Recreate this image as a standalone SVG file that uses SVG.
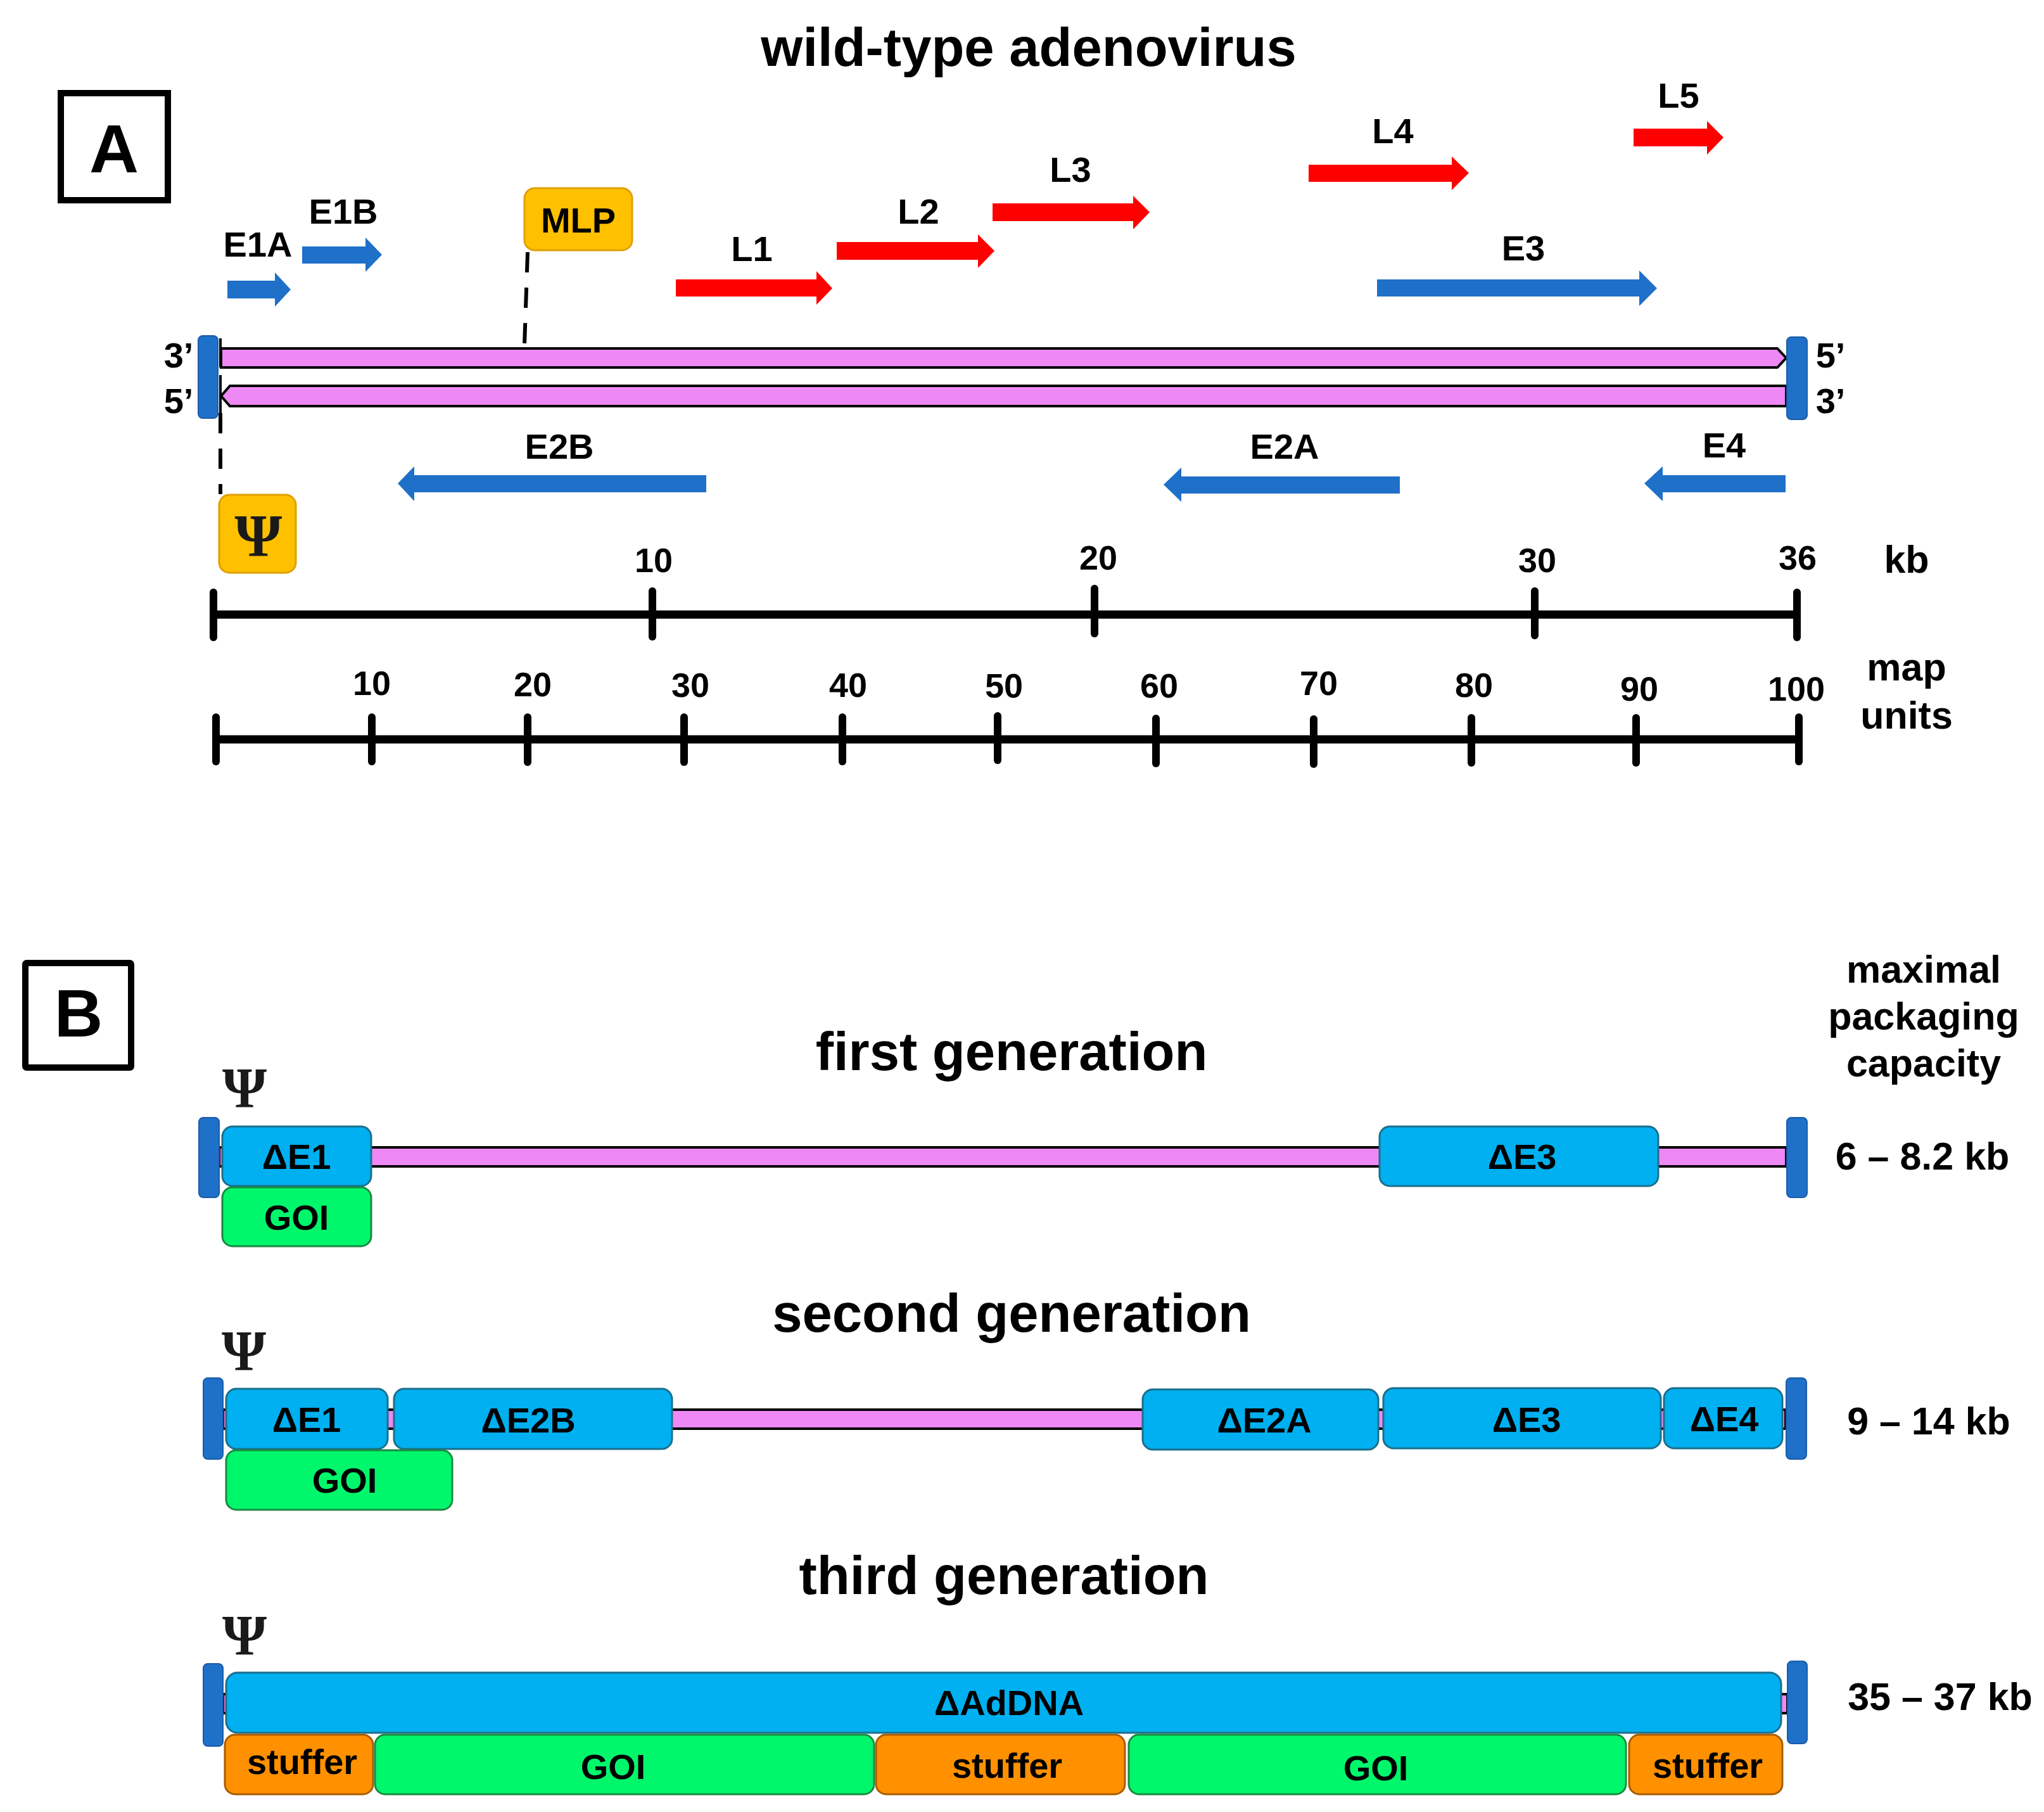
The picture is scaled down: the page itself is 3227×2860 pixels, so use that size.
<svg xmlns="http://www.w3.org/2000/svg" width="3227" height="2860" viewBox="0 0 3227 2860">
<style>
text{font-family:"Liberation Sans",Arial,sans-serif;font-weight:bold;fill:#000;text-anchor:middle}
.title{font-size:85px}
.lbl{font-size:56px}
.num{font-size:54px}
.unit{font-size:61px}
.psi{font-family:"Liberation Serif","Times New Roman",serif;fill:#1a1a1a}
.panel{fill:#fff;stroke:#000;stroke-width:10}
.strand{fill:#EE88F5;stroke:#000;stroke-width:4}
.cap{fill:#1F70C8;stroke:#1A5CA8;stroke-width:2}
.blue{fill:#1F70C8}
.red{fill:#FF0000}
.del{fill:#00B0F0;stroke:#1C6E8C;stroke-width:3}
.goi{fill:#00F76C;stroke:#1A8A40;stroke-width:3}
.stuf{fill:#FF9000;stroke:#A85C00;stroke-width:3}
.prom{fill:#FFC000;stroke:#E0A000;stroke-width:3}
.dash{stroke:#000;stroke-width:6;stroke-dasharray:32 24;fill:none}
.axis{stroke:#000;stroke-width:13;fill:none}
.tick{stroke:#000;stroke-width:12;stroke-linecap:round;fill:none}
</style>

<!-- Panel A -->
<g id="panelA-label"><rect class="panel" x="96" y="147" width="169" height="169"/><text x="180" y="272" style="font-size:108px">A</text></g>
<text id="titleA" class="title" x="1624" y="104">wild-type adenovirus</text>

<g id="genome-A">
  <path class="strand" d="M349,550 H2806 L2820,565 L2806,580 H349 Z"/>
  <path class="strand" d="M363,609 H2820 V641 H363 L349,625 Z"/>
  <rect class="cap" x="313" y="530" width="31" height="130" rx="7"/>
  <rect class="cap" x="2821" y="532" width="32" height="130" rx="7"/>
  <line x1="348" y1="534" x2="348" y2="580" stroke="#000" stroke-width="4"/>
  <line x1="348" y1="592" x2="348" y2="656" stroke="#000" stroke-width="4"/>
  <text class="lbl" x="282" y="580">3’</text>
  <text class="lbl" x="282" y="652">5’</text>
  <text class="lbl" x="2890" y="580">5’</text>
  <text class="lbl" x="2890" y="652">3’</text>
</g>

<g id="connectors">
  <line class="dash" x1="833" y1="398" x2="828" y2="545"/>
  <line class="dash" x1="348" y1="652" x2="348" y2="780"/>
</g>

<g id="MLP"><rect class="prom" x="828" y="297" width="170" height="98" rx="16"/><text class="lbl" x="913" y="367">MLP</text></g>
<g id="psiA"><rect class="prom" x="346" y="781" width="121" height="123" rx="16"/><text class="psi" x="408" y="878" style="font-size:96px">Ψ</text></g>

<g id="E1A"><path class="blue" d="M359,443 H434 V430 L459,457 L434,484 V471 H359 Z"/><text class="lbl" x="407" y="405">E1A</text></g>
<g id="E1B"><path class="blue" d="M477,389 H577 V375 L603,402 L577,429 V416 H477 Z"/><text class="lbl" x="542" y="353">E1B</text></g>
<g id="L1"><path class="red" d="M1067,441 H1289 V428 L1314,455 L1289,481 V468 H1067 Z"/><text class="lbl" x="1187" y="412">L1</text></g>
<g id="L2"><path class="red" d="M1321,382 H1544 V370 L1570,396 L1544,423 V410 H1321 Z"/><text class="lbl" x="1450" y="353">L2</text></g>
<g id="L3"><path class="red" d="M1567,321 H1789 V309 L1815,335 L1789,362 V349 H1567 Z"/><text class="lbl" x="1690" y="287">L3</text></g>
<g id="L4"><path class="red" d="M2066,260 H2292 V247 L2319,273 L2292,300 V287 H2066 Z"/><text class="lbl" x="2199" y="226">L4</text></g>
<g id="L5"><path class="red" d="M2579,203 H2695 V191 L2721,217 L2695,244 V231 H2579 Z"/><text class="lbl" x="2650" y="170">L5</text></g>
<g id="E3"><path class="blue" d="M2174,441 H2588 V427 L2616,455 L2588,483 V468 H2174 Z"/><text class="lbl" x="2405" y="411">E3</text></g>
<g id="E2B"><path class="blue" d="M1115,750 H654 V736 L628,763 L654,791 V777 H1115 Z"/><text class="lbl" x="883" y="724">E2B</text></g>
<g id="E2A"><path class="blue" d="M2210,752 H1865 V738 L1837,765 L1865,792 V779 H2210 Z"/><text class="lbl" x="2028" y="724">E2A</text></g>
<g id="E4"><path class="blue" d="M2819,750 H2625 V736 L2596,763 L2625,791 V777 H2819 Z"/><text class="lbl" x="2722" y="722">E4</text></g>

<g id="kb-scale">
  <line class="axis" x1="337" y1="970" x2="2837" y2="970"/>
  <line class="tick" x1="337" y1="935" x2="337" y2="1006"/>
  <line class="tick" x1="1030" y1="933" x2="1030" y2="1005"/>
  <line class="tick" x1="1728" y1="929" x2="1728" y2="1000"/>
  <line class="tick" x1="2423" y1="933" x2="2423" y2="1003"/>
  <line class="tick" x1="2837" y1="935" x2="2837" y2="1006"/>
  <text class="num" x="1032" y="903">10</text>
  <text class="num" x="1734" y="899">20</text>
  <text class="num" x="2427" y="903">30</text>
  <text class="num" x="2838" y="899">36</text>
  <text class="unit" x="3010" y="904">kb</text>
</g>

<g id="mu-scale">
  <line class="axis" x1="341" y1="1167" x2="2840" y2="1167"/>
  <line class="tick" x1="341" y1="1132" x2="341" y2="1202"/>
  <line class="tick" x1="587" y1="1132" x2="587" y2="1202"/>
  <line class="tick" x1="833" y1="1132" x2="833" y2="1203"/>
  <line class="tick" x1="1080" y1="1132" x2="1080" y2="1203"/>
  <line class="tick" x1="1330" y1="1132" x2="1330" y2="1202"/>
  <line class="tick" x1="1575" y1="1130" x2="1575" y2="1200"/>
  <line class="tick" x1="1825" y1="1134" x2="1825" y2="1205"/>
  <line class="tick" x1="2074" y1="1135" x2="2074" y2="1206"/>
  <line class="tick" x1="2323" y1="1133" x2="2323" y2="1204"/>
  <line class="tick" x1="2583" y1="1133" x2="2583" y2="1204"/>
  <line class="tick" x1="2840" y1="1132" x2="2840" y2="1202"/>
  <text class="num" x="587" y="1097">10</text>
  <text class="num" x="841" y="1099">20</text>
  <text class="num" x="1090" y="1100">30</text>
  <text class="num" x="1339" y="1100">40</text>
  <text class="num" x="1585" y="1101">50</text>
  <text class="num" x="1830" y="1101">60</text>
  <text class="num" x="2082" y="1097">70</text>
  <text class="num" x="2327" y="1100">80</text>
  <text class="num" x="2588" y="1106">90</text>
  <text class="num" x="2836" y="1106">100</text>
  <text class="unit" x="3010" y="1074">map</text>
  <text class="unit" x="3010" y="1150">units</text>
</g>

<!-- Panel B -->
<g id="panelB-label"><rect class="panel" x="40" y="1520" width="167" height="165" rx="2"/><text x="124" y="1636" style="font-size:106px">B</text></g>
<g id="capacity-header">
  <text class="unit" x="3037" y="1551">maximal</text>
  <text class="unit" x="3037" y="1625">packaging</text>
  <text class="unit" x="3037" y="1699">capacity</text>
</g>

<g id="first-generation">
  <text class="title" x="1597" y="1689">first generation</text>
  <text class="psi" x="386" y="1748" style="font-size:90px">Ψ</text>
  <rect class="strand" x="346" y="1811" width="2474" height="30"/>
  <rect class="cap" x="314" y="1764" width="32" height="126" rx="7"/>
  <rect class="cap" x="2821" y="1764" width="32" height="126" rx="7"/>
  <g id="g1-dE1"><rect class="del" x="351" y="1778" width="235" height="94" rx="16"/><text class="lbl" x="468" y="1845">ΔE1</text></g>
  <g id="g1-GOI"><rect class="goi" x="351" y="1874" width="235" height="93" rx="16"/><text class="lbl" x="468" y="1941">GOI</text></g>
  <g id="g1-dE3"><rect class="del" x="2178" y="1778" width="440" height="94" rx="16"/><text class="lbl" x="2403" y="1845">ΔE3</text></g>
  <text class="unit" x="3035" y="1846">6 – 8.2 kb</text>
</g>

<g id="second-generation">
  <text class="title" x="1597" y="2102">second generation</text>
  <text class="psi" x="385" y="2163" style="font-size:90px">Ψ</text>
  <rect class="strand" x="352" y="2225" width="2467" height="30"/>
  <rect class="cap" x="321" y="2175" width="31" height="128" rx="7"/>
  <rect class="cap" x="2820" y="2175" width="32" height="128" rx="7"/>
  <g id="g2-dE1"><rect class="del" x="357" y="2192" width="255" height="95" rx="16"/><text class="lbl" x="484" y="2260">ΔE1</text></g>
  <g id="g2-dE2B"><rect class="del" x="622" y="2192" width="439" height="95" rx="16"/><text class="lbl" x="834" y="2261">ΔE2B</text></g>
  <g id="g2-dE2A"><rect class="del" x="1804" y="2193" width="372" height="95" rx="16"/><text class="lbl" x="1996" y="2261">ΔE2A</text></g>
  <g id="g2-dE3"><rect class="del" x="2184" y="2191" width="438" height="95" rx="16"/><text class="lbl" x="2410" y="2260">ΔE3</text></g>
  <g id="g2-dE4"><rect class="del" x="2627" y="2191" width="187" height="95" rx="16"/><text class="lbl" x="2722" y="2259">ΔE4</text></g>
  <g id="g2-GOI"><rect class="goi" x="357" y="2289" width="357" height="94" rx="16"/><text class="lbl" x="544" y="2356">GOI</text></g>
  <text class="unit" x="3045" y="2264">9 – 14 kb</text>
</g>

<g id="third-generation">
  <text class="title" x="1585" y="2516">third generation</text>
  <text class="psi" x="386" y="2612" style="font-size:90px">Ψ</text>
  <rect class="strand" x="352" y="2674" width="2470" height="30"/>
  <rect class="cap" x="321" y="2626" width="31" height="130" rx="7"/>
  <rect class="cap" x="2822" y="2622" width="31" height="130" rx="7"/>
  <g id="g3-dAdDNA"><rect class="del" x="357" y="2640" width="2455" height="95" rx="18"/><text class="lbl" x="1593" y="2707">ΔAdDNA</text></g>
  <g id="g3-stuffer1"><rect class="stuf" x="355" y="2738" width="234" height="94" rx="16"/><text class="lbl" x="477" y="2800">stuffer</text></g>
  <g id="g3-GOI1"><rect class="goi" x="592" y="2738" width="788" height="94" rx="16"/><text class="lbl" x="968" y="2808">GOI</text></g>
  <g id="g3-stuffer2"><rect class="stuf" x="1383" y="2738" width="393" height="94" rx="16"/><text class="lbl" x="1590" y="2806">stuffer</text></g>
  <g id="g3-GOI2"><rect class="goi" x="1782" y="2738" width="785" height="94" rx="16"/><text class="lbl" x="2172" y="2810">GOI</text></g>
  <g id="g3-stuffer3"><rect class="stuf" x="2572" y="2738" width="242" height="94" rx="16"/><text class="lbl" x="2696" y="2806">stuffer</text></g>
  <text class="unit" x="3063" y="2699">35 – 37 kb</text>
</g>
</svg>
